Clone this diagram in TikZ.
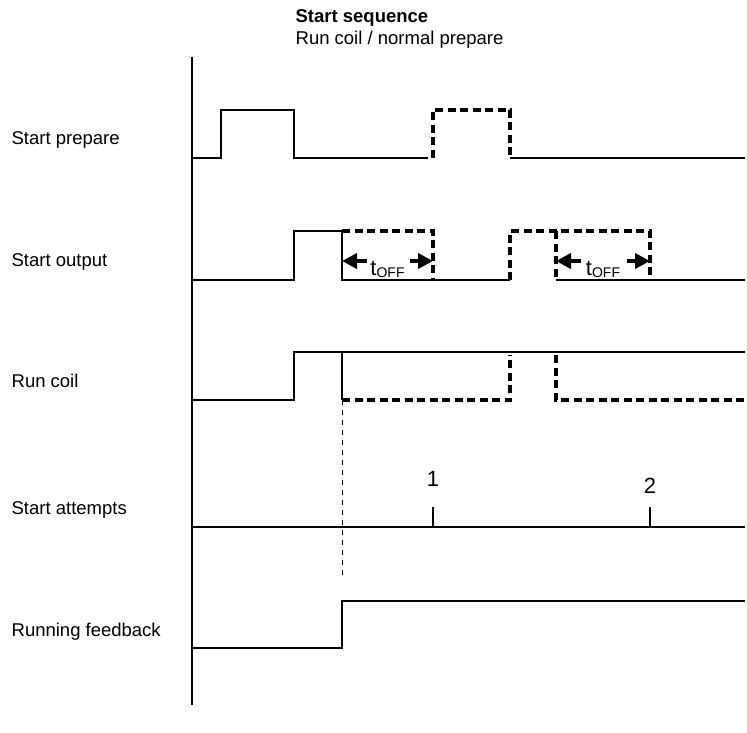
\documentclass[tikz,border=0pt]{standalone}
\usepackage{fontspec}
\setmainfont{Liberation Sans}
\usetikzlibrary{arrows.meta}
\tikzset{tm/.style={x=1pt,y=-1pt,line width=1.3pt,font=\fontsize{18.5}{22}\selectfont},
  sig/.style={line width=1.4pt},
  dsig/.style={line width=3.2pt,dash pattern=on 8pt off 4.5pt},
  guide/.style={line width=1pt,dash pattern=on 5pt off 5pt},
  toff/.style={line width=4pt,-{Triangle[length=15pt,width=15pt]}},
  lbl/.style={anchor=base west,inner sep=0pt}}

\begin{document}
\begin{tikzpicture}[tm]
  \useasboundingbox (0,0) rectangle (747,733);
  \node[lbl,font=\fontsize{18.5}{22}\selectfont\bfseries] (ttl) at (295,23) {Start sequence};
  \node[lbl] (sub) at (295,45) {Run coil / normal prepare};
  \foreach \y/\t/\n in {145/Start prepare/prep,266/Start output/out,387/Run coil/coil,514/Start attempts/att,636/Running feedback/fb}{\node[lbl] (\n) at (11,\y){\t};}
  \draw[sig] (192,57)--(192,705);
  % start prepare
  \draw[sig] (192,158)--(221,158)--(221,110)--(294,110)--(294,158)--(428,158);
  \draw[dsig] (433,158)--(433,110)--(510,110)--(510,158);
  \draw[sig] (510,158)--(745,158);
  % start output
  \draw[sig] (192,280)--(294,280)--(294,231)--(342,231)--(342,280)--(510,280);
  \draw[sig] (556,280)--(745,280);
  \draw[dsig] (342,231)--(433,231)--(433,280);
  \draw[dsig] (510,280)--(510,231)--(650,231)--(650,280);
  \draw[dsig] (556,231)--(556,280);
  \foreach \a/\b/\n in {342/433/1,556/650/2}{
    \coordinate (l\n) at (\a,261); \coordinate (r\n) at (\b,261);
    \draw[toff] ([xshift=25pt]l\n)--(l\n);
    \draw[toff] ([xshift=-23pt]r\n)--(r\n);
    \node[inner sep=0pt,anchor=base] (t\n) at ({(\a+\b)/2},275) {\fontsize{22}{24}\selectfont t\raisebox{-2pt}{\fontsize{14}{16}\selectfont OFF}};}
  % run coil
  \draw[sig] (192,400)--(294,400)--(294,352)--(745,352);
  \draw[sig] (342,352)--(342,400);
  \draw[dsig] (342,400)--(510,400)--(510,355);
  \draw[dsig] (556,355)--(556,400)--(745,400);
  \draw[guide] (342,400)--(342,578);
  % start attempts
  \draw[sig] (192,527)--(745,527);
  \foreach \x/\l/\b in {433/1/486,650/2/493}{\draw[sig] (\x,507)--(\x,527);\node[inner sep=0pt,anchor=base,font=\fontsize{22}{24}\selectfont] (n\l) at (\x,\b){\l};}
  % running feedback
  \draw[sig] (192,648)--(342,648)--(342,601)--(745,601);
\end{tikzpicture}
\end{document}
